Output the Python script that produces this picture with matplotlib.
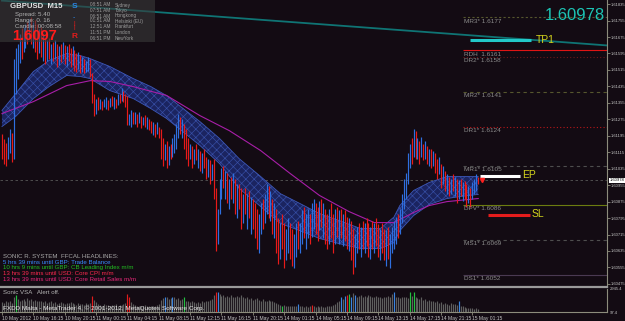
import matplotlib
matplotlib.use('Agg')
import matplotlib.pyplot as plt
import matplotlib.transforms as mtransforms
from matplotlib.patches import Rectangle
import numpy as np

plt.rcParams['font.family'] = ['Liberation Sans', 'DejaVu Sans']
plt.rcParams['hatch.linewidth'] = 0.45

BG = '#130b13'
UP = '#2f6fe0'
DN = '#e81a1a'

# GBPUSD M15 bars, pips above 1.6000
highs = [120.6, 118, 116, 119, 123, 121, 157, 162, 164, 169,
         172, 172.5, 174, 175, 176.5, 177, 175, 176, 174, 171.6,
         172.5, 169, 167, 166, 167, 164, 165, 166, 164, 163,
         164, 165, 163.8, 163, 164.3, 162, 163, 161, 159.5, 160,
         159, 158, 157, 156, 158, 157, 149.8, 140, 137.6, 138.5,
         137.6, 136.6, 137.6, 138.5, 137, 138, 139, 138.5, 137.6, 139.6,
         140, 142.5, 141.5, 140, 139, 130.3, 132, 131.3, 131, 130.3,
         131.3, 129, 128.4, 129.4, 128.4, 127.9, 126.9, 126, 125.4, 126.4,
         124, 123, 118.2, 115.7, 117.2, 114.3, 115.7, 118.2, 120.6, 125.4,
         130.3, 128.4, 127.9, 125.4, 123, 118.2, 115.7, 114.3, 113.3, 115.7,
         113.3, 112.3, 110.9, 113.3, 109.4, 108.4, 107.5, 106, 108.4, 93.9,
         84.1, 98.7, 103.6, 104.6, 102.6, 101.2, 98.7, 99.7, 101.2, 98.7,
         96.3, 96.3, 93.9, 91.4, 93.9, 91.4, 92.9, 89.9, 89, 86.6,
         84.1, 81.7, 86.6, 89, 91.4, 96.3, 94.9, 92.9, 89, 86.6,
         84.1, 79.3, 76.9, 81.7, 76.9, 74.4, 79.3, 76.9, 74.4, 72,
         76.9, 78.3, 76.9, 83.2, 85.1, 81.7, 84.1, 81.7, 86.6, 89,
         86.6, 85.1, 87.6, 89, 86.6, 84.1, 81.7, 84.1, 86.6, 81.7,
         84.1, 85.1, 83.2, 84.1, 81.7, 83.2, 80.2, 79.3, 78.3, 74.4,
         72, 75.4, 76.9, 75.4, 78.3, 76.9, 79.3, 76.9, 75.4, 78.3,
         76.9, 79.3, 76.4, 74.4, 76.9, 74.4, 73.5, 75.4, 72, 75.4,
         78.3, 80.2, 81.7, 84.1, 91.4, 98.7, 101.2, 110.9, 115.7, 118.2,
         123, 122, 118.2, 117.2, 119.1, 115.7, 117.2, 114.3, 113.3, 113.3,
         112.3, 110.9, 108.4, 109.4, 106, 104.6, 102.6, 100.7, 99.7, 98.7,
         100.7, 99.7, 98.7, 97.8, 98.7, 96.8, 97.3, 96.3, 94.9, 93.9,
         96.8, 98.7, 100.7, 99.7]
lows = [108.4, 106, 105, 108, 111, 107, 108, 140, 147, 155,
        157, 160, 162, 164, 167, 164, 162, 160, 157, 159.5,
        158, 156, 154.6, 156, 157, 154.6, 156, 157, 153, 154,
        155.5, 157, 154.6, 153.5, 156, 153, 154, 151, 150.7, 152,
        150, 150.7, 149.8, 150.7, 151, 148.3, 135.2, 129.3, 130.3, 131.8,
        132.7, 131.8, 133.7, 132.7, 132, 133.7, 134.2, 132.7, 133.2, 134.7,
        135.2, 136.2, 135.7, 133.7, 124.5, 124.5, 124, 125.4, 125, 124,
        125.9, 123.5, 124.5, 124, 123, 122.5, 121, 120, 119.1, 120.6,
        118.2, 108.4, 104.6, 107.5, 103.6, 105.5, 108.4, 109.4, 110.9, 113.3,
        118.2, 120.6, 118.2, 113.3, 108.4, 104.6, 108.4, 103.6, 106, 107.5,
        103.6, 102.6, 101.2, 103.6, 98.7, 99.7, 96.3, 97.8, 89, 63.7,
        67.1, 81.7, 89, 93.9, 89, 86.6, 84.1, 89, 86.6, 81.7,
        79.3, 84.1, 74.4, 76.9, 81.7, 74.4, 79.3, 72, 74.4, 69.6,
        64.7, 62.3, 72, 74.4, 76.9, 81.7, 79.3, 78.3, 72, 69.6,
        62.3, 57.4, 59.8, 64.7, 55, 58.9, 62.3, 59.8, 56, 55,
        60.8, 64.7, 62.3, 67.1, 69.6, 64.7, 69.6, 67.1, 70.5, 74.4,
        72, 68.6, 73.5, 75.4, 69.6, 67.1, 64.7, 67.1, 69.6, 62.3,
        67.1, 70.5, 67.1, 69.6, 65.7, 68.6, 64.7, 63.7, 58.9, 52.1,
        55.9, 62.3, 64.7, 60.8, 64.7, 62.3, 65.7, 60.8, 59.8, 64.7,
        62.3, 65.7, 60.8, 58.9, 62.3, 58.9, 56, 59.8, 55, 62.3,
        64.7, 67.1, 69.6, 72, 76.9, 84.1, 89, 96.3, 103.6, 106,
        109.4, 108.4, 108.4, 106, 109.4, 107.5, 108.4, 106, 104.6, 103.6,
        104.6, 101.2, 98.7, 100.7, 93.9, 96.3, 92.9, 91.4, 90, 91,
        92.9, 90, 86.6, 89, 90, 87.6, 89, 85.1, 86.6, 85.1,
        89, 91.4, 92.9, 96.3]
closes = [112, 108, 107, 117, 120, 110, 152, 158, 161, 166,
          160, 169, 171, 166, 174, 167, 172, 162, 159, 170,
          160, 165, 157, 164, 159, 162, 158, 164, 155, 161,
          158, 163, 156, 160, 158, 155, 161, 153, 152, 158,
          151, 156, 151, 154, 157, 149, 137, 131, 135, 133,
          136, 133, 135.5, 137, 134, 137, 135, 137.5, 134, 138.5,
          136, 141.5, 137, 135, 125.5, 129, 130.5, 127, 130, 125.5,
          130, 124.5, 127.5, 125, 127, 123.5, 122, 125, 120, 125,
          119, 110, 106, 113, 105, 112, 110, 117, 119, 124,
          129, 122, 126, 115, 110, 106, 113, 105, 111, 108.5,
          110, 104, 108, 105, 100, 106, 97.5, 104, 91, 66,
          80, 97, 101, 96, 100, 88, 95, 91, 99, 84,
          93, 86, 77, 89, 84, 88, 81, 86, 76, 72,
          67, 78, 84, 76, 89, 94, 81, 90, 74, 84,
          64, 60, 74, 66, 58, 72, 77, 62, 58, 68,
          75, 66, 74, 81, 72, 79, 82, 69, 84, 87,
          74, 71, 85, 77, 84, 70, 67, 81, 72, 65,
          82, 73, 80, 72, 79, 70, 67, 77, 61, 54,
          70, 73, 67, 73, 66, 75, 68, 63, 73, 66,
          74, 68, 63, 72, 64, 61, 70, 62, 68, 74,
          77, 79, 72, 83, 90, 97, 99, 109, 113, 110,
          121, 111, 115, 108, 117, 109, 116, 107.5, 112, 105,
          111, 103, 100, 108, 95, 103, 94, 99, 92, 97,
          95, 98, 88, 96, 91.5, 95, 90, 86.5, 93, 87,
          95.5, 97.5, 99.5, 97.8]

# tick volume
volumes = [1300, 1200, 1400, 1300, 1500, 1200, 1900, 2200, 1700, 1500,
           1600, 1700, 1500, 1800, 1600, 1700, 1500, 1600, 1400, 1500,
           1400, 1300, 1500, 1200, 1300, 1400, 1200, 1300, 1100, 1200,
           1300, 1200, 1100, 1250, 1150, 1300, 1200, 1100, 1000, 1150,
           1050, 1100, 1000, 1150, 1100, 1200, 2100, 1600, 1300, 1100,
           1000, 900, 1050, 950, 1000, 900, 1000, 950, 1050, 900,
           950, 1000, 1100, 1200, 2300, 1900, 1300, 1100, 1000, 900,
           850, 900, 800, 950, 850, 900, 800, 850, 900, 950,
           1100, 1600, 1800, 2000, 1900, 1700, 1800, 2000, 1900, 1700,
           1800, 1600, 1700, 2000, 1500, 1400, 1300, 1400, 1300, 1200,
           1300, 1200, 1400, 1300, 1500, 1400, 1600, 1700, 2200, 2600,
           2550, 2300, 2100, 2200, 2000, 2100, 1900, 2200, 2000, 1900,
           2100, 1900, 2200, 2000, 1800, 1900, 1700, 1800, 1600, 1700,
           1800, 1600, 1500, 1700, 1500, 1400, 1600, 1400, 1500, 1300,
           1200, 1100, 1000, 900, 950, 850, 900, 800, 850, 800,
           850, 1100, 900, 800, 750, 850, 700, 800, 1000, 900,
           750, 800, 700, 850, 750, 700, 800, 900, 850, 950,
           1100, 1300, 1500, 1900, 1700, 2100, 2200, 2300, 2000, 2400,
           2200, 2000, 2100, 2200, 1900, 2100, 2000, 2200, 2100, 1900,
           2000, 2100, 1900, 2000, 1800, 2000, 1900, 2100, 2000, 2300,
           2600, 2000, 1900, 1800, 2000, 1900, 2000, 1800, 2600, 2100,
           2550, 2000, 1800, 1700, 1900, 1600, 1700, 1500, 1600, 1400,
           1500, 1300, 1400, 1200, 1300, 1100, 1200, 1100, 1000, 1150,
           1050, 1100, 1000, 1400, 900, 800, 700, 600, 650, 550,
           600, 500, 550, 450]
vsa_idx = [7, 46, 64, 65, 83, 87, 93, 109, 110, 143, 151, 158,
           173, 175, 176, 177, 178, 180, 200, 208, 210, 233]
vsa_kind = ['g', 'r', 'r', 'r', 'b', 'b', 'g', 'r', 'b', 'g', 'b', 'r',
            'b', 'b', 'r', 'g', 'b', 'b', 'b', 'g', 'g', 'b']

# envelope ribbon and slow MA (bar index, pips)
rib_idx = [0, 7, 16, 24, 33, 40, 45, 55, 67, 76, 84, 101, 111, 121, 132,
           142, 152, 162, 172, 183, 193, 200, 203, 210, 218, 227, 234, 243]
rib_up = [131.8, 140.0, 150.7, 156.1, 159.5, 158.5, 157.0, 153.2, 147.3,
          143.4, 139.0, 126.4, 118.2, 108.4, 99.7, 91.4, 86.6, 81.7, 78.3,
          74.4, 74.4, 80.0, 85.6, 92.9, 96.8, 99.7, 99.7, 99.7]
rib_lo = [124.0, 128.9, 137.6, 143.4, 148.8, 148.3, 147.3, 141.5, 137.6,
          132.7, 127.9, 114.8, 106.0, 93.9, 85.1, 76.9, 73.4, 69.6, 67.1,
          64.7, 64.7, 67.5, 73.4, 80.7, 86.1, 89.0, 90.0, 91.0]
ma_idx = [0, 16, 33, 45, 55, 67, 84, 101, 116, 132, 147, 162, 177, 190,
          200, 210, 218, 227, 243]
ma_val = [130.3, 136.1, 143.9, 146.3, 145.9, 143.4, 139.1, 129.3, 122.0,
          112.3, 101.2, 90.5, 82.7, 77.3, 77.3, 82.2, 85.6, 87.5, 89.0]
trend_idx = [0, 309]
trend_val = [1.61852, 1.61634]

pivot_names = ['MR3*', 'RDH ', 'DR2*', 'MR2*', 'DR1*', 'MR1*', 'DPV*', 'MS1*', 'DS1*']
pivot_levels = [1.6177, 1.6161, 1.6158, 1.6141, 1.6124, 1.6105, 1.6086, 1.6069, 1.6052]
pivot_colors = ['#56562e', '#e01414', '#6e1818', '#56562e', '#b81818',
                '#4e4e4e', '#6c7c10', '#4e4e4e', '#4a3a52']
pivot_styles = [(0, (2, 2)), '-', (0, (1, 2)), (0, (3, 3)), (0, (1, 2)),
                (0, (3, 3)), '-', (0, (3, 3)), '-']

tp_level, ep_level, sl_level = 1.6166, 1.6100, 1.6081
price_ticks = [1.61835, 1.61755, 1.61675, 1.61595, 1.61515, 1.61435,
               1.61355, 1.61275, 1.61195, 1.61115, 1.61035, 1.60955,
               1.60875, 1.60795, 1.60715, 1.60635, 1.60555, 1.60475]
time_labels = ['10 May 2012', '10 May 16:15', '10 May 20:15', '11 May 00:15',
               '11 May 04:15', '11 May 08:15', '11 May 12:15', '11 May 16:15',
               '11 May 20:15', '14 May 01:15', '14 May 05:15', '14 May 09:15',
               '14 May 13:15', '14 May 17:15', '14 May 21:15', '15 May 01:15']
time_idx = [16 * k for k in range(len(time_labels))]

zones = [('08:51 AM', 'Sydney'), ('07:51 AM', 'Tokyo'), ('06:51 AM', 'Hongkong'),
         ('01:51 AM', 'Helsinki (EU)'), ('12:51 AM', 'Frankfurt'),
         ('11:51 PM', 'London'), ('06:51 PM', 'NewYork')]
headlines = [('SONIC R. SYSTEM  FFCAL HEADLINES:', '#a8a8a8'),
             ('5 hrs 39 mins until GBP: Trade Balance', '#3a8cff'),
             ('10 hrs 9 mins until GBP: CB Leading Index m/m', '#22c022'),
             ('13 hrs 39 mins until USD: Core CPI m/m', '#ff2a50'),
             ('13 hrs 39 mins until USD: Core Retail Sales m/m', '#e8287a')]

# ---------------------------------------------------------------
to_price = lambda v: np.asarray(v, dtype=float) / 10000 + 1.6
hi, lo, cl = to_price(highs), to_price(lows), to_price(closes)
n = len(cl)
idx = np.arange(n)
prev = np.concatenate([[cl[0] + 1e-6], cl[:-1]])
bar_cols = [UP if c >= p else DN for c, p in zip(cl, prev)]
last = cl[-1]

W, H = 625, 321
fx = lambda x: x / W
fy = lambda y: 1 - y / H

fig = plt.figure(figsize=(W / 100, H / 100), dpi=100, facecolor=BG)
ax = fig.add_axes([0, fy(287), fx(607), 287 / H])
ax.set_facecolor(BG)
ax.set_xlim(-1.0, 308.7)
ax.set_ylim(1.60460, 1.61855)

ax.fill_between(rib_idx, to_price(rib_lo), to_price(rib_up), facecolor='#1b2460',
                edgecolor='#3850a8', hatch='xxxx', linewidth=0, zorder=2)
ax.plot(rib_idx, to_price(rib_up), color='#3d58b8', lw=0.6, zorder=2)
ax.plot(rib_idx, to_price(rib_lo), color='#3d58b8', lw=0.6, zorder=2)
ax.plot(ma_idx, to_price(ma_val), color='#a81ea8', lw=0.8, zorder=2.5)

bars = ax.vlines(idx, lo, hi, colors=bar_cols, lw=0.85, zorder=3)
bars.set_snap(True)

ax.axhline(last, color='#575757', lw=0.6, ls=(0, (3, 3)), zorder=1)
ax.plot(trend_idx, trend_val, color='#0f7474', lw=1.3, zorder=4)

for name, lev, col, st in zip(pivot_names, pivot_levels, pivot_colors, pivot_styles):
    ax.hlines(lev, 235, 309, colors=col, linestyles=st, lw=0.8, zorder=1.5)
    ax.annotate(f'{name} {lev:.4f}', (235.5, lev), xytext=(0, -0.8),
                textcoords='offset points', va='top', ha='left',
                color='#8c8c8c', fontsize=4.6, zorder=5)

ax.hlines(tp_level, 239, 270, colors='#22c8c8', lw=2.2, zorder=5)
ax.hlines(ep_level, 244, 264.3, colors='#ffffff', lw=2.2, zorder=5)
ax.hlines(sl_level, 248, 269.4, colors='#e41c1c', lw=2.2, zorder=5)
ax.plot([245], [last + 0.00003], marker='v', color='#ff2020', ms=3, zorder=6)
for lab, lev, xi in [('TP1', tp_level, 272.5), ('EP', ep_level, 265.3), ('SL', sl_level, 270.4)]:
    ax.text(xi, lev + 0.00003, lab, color='#d4d41c', fontsize=7.5, va='center', ha='left', zorder=6)

for s in ['left', 'top']:
    ax.spines[s].set_visible(False)
ax.spines['right'].set_color('#8c8c7c')
ax.spines['bottom'].set_color('#9a9a9a')
ax.spines['bottom'].set_linewidth(1.6)
ax.set_xticks([])
ax.yaxis.tick_right()
ax.set_yticks(price_ticks)
ax.set_yticklabels([f'{t:.5f}' for t in price_ticks])
ax.tick_params(axis='y', colors='#8c8c7c', labelcolor='#c4c4c4', labelsize=3.0,
               length=2, width=0.6, pad=0.8)
blend = mtransforms.blended_transform_factory(ax.transAxes, ax.transData)
ax.text(1.004, last, f'{last:.5f}', transform=blend, fontsize=3.0, color='black',
        va='center', ha='left', clip_on=False, zorder=8,
        bbox=dict(facecolor='white', edgecolor='none', pad=0.5))

# volume sub window
sub = fig.add_axes([0, fy(312), fx(607), 23 / H])
sub.set_facecolor(BG)
sub.set_xlim(ax.get_xlim())
sub.set_ylim(97.4, 2945.4)
vcol = ['#5e5e5e'] * n
vsa_map = {'g': '#22c040', 'r': '#e21c1c', 'b': '#3a84e0'}
for i, k in zip(vsa_idx, vsa_kind):
    vcol[i] = vsa_map[k]
vb = sub.vlines(idx, 97.4, volumes, colors=vcol, lw=0.85)
vb.set_snap(True)
for s in ['left', 'top']:
    sub.spines[s].set_visible(False)
sub.spines['right'].set_color('#8c8c7c')
sub.spines['bottom'].set_color('#8c8c7c')
sub.yaxis.tick_right()
sub.set_yticks([97.4, 2945.4])
sub.set_yticklabels(['97.4', '2945.4'])
sub.tick_params(axis='y', labelcolor='#c4c4c4', labelsize=3.0, length=0, pad=2)
sub.set_xticks(time_idx)
sub.set_xticklabels(time_labels, ha='left')
sub.tick_params(axis='x', colors='#8c8c7c', labelcolor='#c4c4c4', labelsize=3.6,
                length=2, width=0.6, pad=1)

# info panel
fig.patches.append(Rectangle((0, fy(42)), fx(155), 42 / H, transform=fig.transFigure,
                             facecolor='#3a3a3a', edgecolor='none', alpha=0.6, zorder=1))
fig.text(fx(10), fy(7), 'GBPUSD  M15', color='#e4e4e4', fontsize=5.6,
         fontweight='bold', va='center', zorder=3)
fig.text(fx(72), fy(7), 'S', color='#2a86e6', fontsize=6, fontweight='bold', va='center', zorder=3)
fig.text(fx(72.5), fy(18), '-', color='#2a86e6', fontsize=5, va='center', zorder=3)
fig.text(fx(73), fy(23), '|', color='#e21c1c', fontsize=4.5, va='center', zorder=3)
fig.text(fx(73), fy(28), '|', color='#e21c1c', fontsize=4.5, va='center', zorder=3)
fig.text(fx(72), fy(37), 'R', color='#e21c1c', fontsize=6, fontweight='bold', va='center', zorder=3)
for k, t in enumerate(['Spread: 5.40', 'Range: 0. 16', 'Candle: 00:08:58']):
    fig.text(fx(15), fy(14.5 + 6 * k), t, color='#b4b4b4', fontsize=4.4, va='center', zorder=3)
fig.text(fx(12), fy(35.5), '1.6097', color='#ff1c1c', fontsize=10.5, fontweight='bold',
         va='center', zorder=3)
for k, (tm, city) in enumerate(zones):
    yy = [5, 10.5, 16, 21, 26.5, 33, 38][k]
    fig.text(fx(90), fy(yy), tm, color='#9c9c9c', fontsize=3.4, va='center', zorder=3)
    fig.text(fx(115), fy(yy), city, color='#9c9c9c', fontsize=3.4, va='center', zorder=3)

fig.text(fx(605), fy(15), f'{last:.5f}', color='#1cc4b4', fontsize=12, ha='right',
         va='center', zorder=3)

for k, (t, c) in enumerate(headlines):
    fig.text(fx(3), fy(256.5 + 5.7 * k), t, color=c, fontsize=4.4, va='center', zorder=3)
fig.text(fx(3), fy(292), 'Sonic VSA   Alert off.', color='#b4b4b4', fontsize=4.4,
         va='center', zorder=3)
fig.text(fx(3), fy(308), 'FXDD Malta - MetaTrader 4, \u00a9 2001-2012, MetaQuotes Software Corp.',
         color='#e8e8e8', fontsize=4.6, va='center', zorder=3)

fig.savefig('out.png', dpi=100, facecolor=BG)
